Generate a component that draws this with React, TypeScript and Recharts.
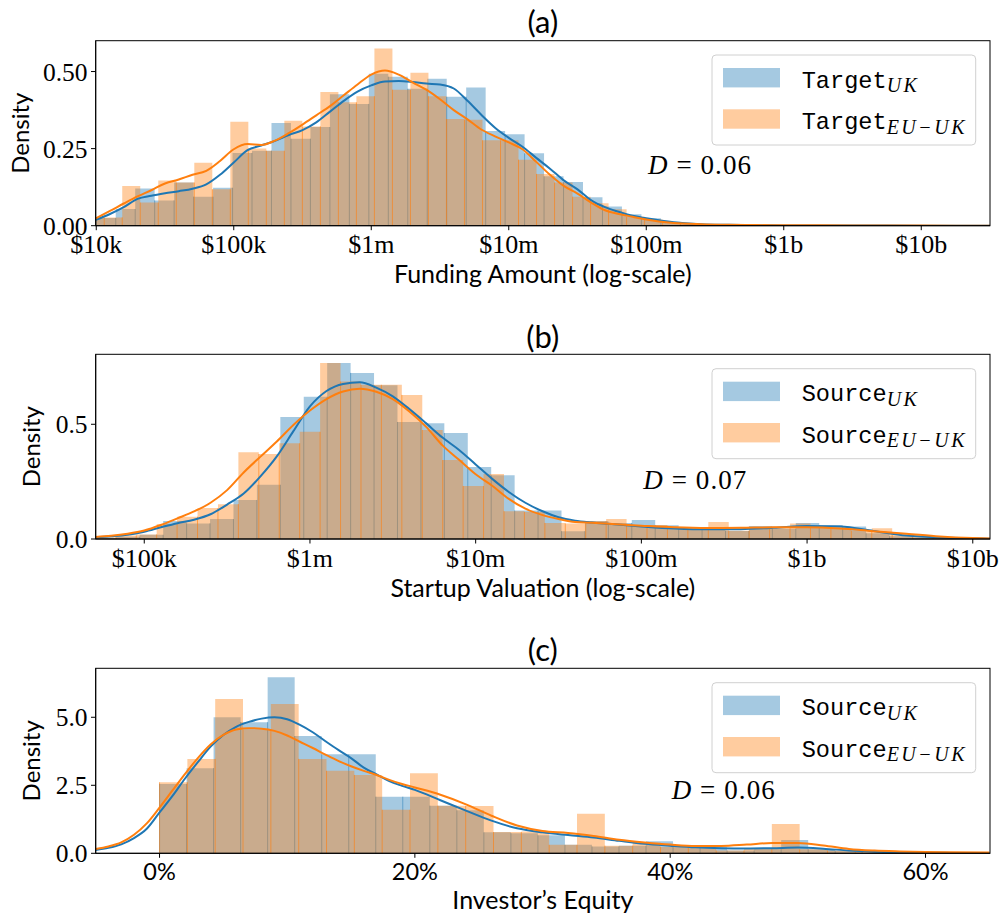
import React from 'react';
import { ComposedChart, XAxis, YAxis, Area, Line, ReferenceLine } from 'recharts';

// ---------------- Panel (a): Funding Amount, x in log10($) ----------------
const A_X_TICKS = [4, 5, 6, 7, 8, 9, 10];
const A_X_LABELS = ['$10k', '$100k', '$1m', '$10m', '$100m', '$1b', '$10b'];
const A_Y_TICKS = [0, 0.25, 0.5];
const A_Y_LABELS = ['0.00', '0.25', '0.50'];
const A_UK_BIN_START = 4.0;
const A_UK_BIN_WIDTH = 0.1416;
const A_UK_HIST = [0.025, 0.054, 0.121, 0.082, 0.14, 0.094, 0.123, 0.236, 0.243, 0.333, 0.282, 0.32, 0.426, 0.395, 0.493, 0.483, 0.444, 0.477, 0.418, 0.448, 0.307, 0.297, 0.235, 0.16, 0.142, 0.092, 0.062, 0.037, 0.024, 0.013, 0.007, 0.004, 0.002, 0.002, 0.001, 0.001];
const A_EU_BIN_START = 3.927;
const A_EU_BIN_WIDTH = 0.131;
const A_EU_HIST = [0.027, 0.027, 0.129, 0.075, 0.147, 0.14, 0.204, 0.118, 0.337, 0.25, 0.243, 0.34, 0.322, 0.434, 0.4, 0.42, 0.575, 0.441, 0.496, 0.42, 0.346, 0.344, 0.277, 0.277, 0.214, 0.168, 0.14, 0.094, 0.073, 0.053, 0.029, 0.02, 0.011, 0.006, 0.004, 0.002, 0.002, 0.001, 0.001];
const A_KDE_X = [3.996, 4.1, 4.2, 4.3, 4.4, 4.5, 4.6, 4.7, 4.8, 4.9, 5.0, 5.1, 5.2, 5.3, 5.4, 5.5, 5.6, 5.7, 5.8, 5.9, 6.0, 6.1, 6.2, 6.3, 6.4, 6.5, 6.6, 6.7, 6.8, 6.9, 7.0, 7.1, 7.2, 7.3, 7.4, 7.5, 7.6, 7.7, 7.8, 7.9, 8.0, 8.2, 8.4, 8.6, 8.8, 9.0, 9.5, 10.0, 10.5];
const A_KDE_UK = [0.019, 0.038, 0.06, 0.087, 0.097, 0.105, 0.112, 0.12, 0.134, 0.165, 0.205, 0.245, 0.26, 0.275, 0.294, 0.31, 0.335, 0.37, 0.405, 0.435, 0.455, 0.468, 0.469, 0.466, 0.461, 0.458, 0.445, 0.405, 0.36, 0.318, 0.285, 0.256, 0.22, 0.185, 0.147, 0.118, 0.082, 0.06, 0.045, 0.032, 0.024, 0.011, 0.005, 0.003, 0.0015, 0.001, 0.0004, 0.0002, 0.0001];
const A_KDE_EU = [0.024, 0.048, 0.072, 0.095, 0.115, 0.137, 0.15, 0.165, 0.178, 0.21, 0.248, 0.265, 0.262, 0.276, 0.3, 0.328, 0.358, 0.388, 0.423, 0.458, 0.49, 0.503, 0.49, 0.465, 0.441, 0.41, 0.375, 0.345, 0.312, 0.29, 0.27, 0.248, 0.207, 0.165, 0.129, 0.104, 0.075, 0.05, 0.038, 0.029, 0.02, 0.009, 0.005, 0.003, 0.002, 0.0015, 0.0008, 0.0004, 0.0001];

// ---------------- Panel (b): Startup Valuation, x in log10($) ----------------
const B_X_TICKS = [5, 6, 7, 8, 9, 10];
const B_X_LABELS = ['$100k', '$1m', '$10m', '$100m', '$1b', '$10b'];
const B_Y_TICKS = [0, 0.5];
const B_Y_LABELS = ['0.0', '0.5'];
const B_UK_BIN_START = 4.69;
const B_UK_BIN_WIDTH = 0.1414;
const B_UK_HIST = [0.005, 0.01, 0.018, 0.078, 0.068, 0.087, 0.17, 0.236, 0.532, 0.62, 0.767, 0.724, 0.67, 0.51, 0.504, 0.462, 0.314, 0.278, 0.124, 0.124, 0.034, 0.078, 0.07, 0.083, 0.06, 0.045, 0.045, 0.035, 0.057, 0.045, 0.07, 0.061, 0.055, 0.025, 0.012, 0.006, 0.003, 0.002];
const B_EU_BIN_START = 4.705;
const B_EU_BIN_WIDTH = 0.1233;
const B_EU_HIST = [0.007, 0.015, 0.02, 0.065, 0.097, 0.135, 0.152, 0.378, 0.37, 0.417, 0.467, 0.767, 0.686, 0.672, 0.672, 0.628, 0.475, 0.344, 0.231, 0.283, 0.121, 0.118, 0.07, 0.068, 0.078, 0.087, 0.061, 0.061, 0.05, 0.04, 0.074, 0.036, 0.047, 0.047, 0.068, 0.054, 0.047, 0.036, 0.047, 0.02, 0.013, 0.006];
const B_KDE_X = [4.707, 4.8, 4.9, 5.0, 5.1, 5.2, 5.3, 5.4, 5.5, 5.6, 5.7, 5.8, 5.9, 6.0, 6.1, 6.2, 6.3, 6.4, 6.5, 6.6, 6.7, 6.8, 6.9, 7.0, 7.1, 7.2, 7.3, 7.4, 7.5, 7.6, 7.7, 7.8, 8.0, 8.2, 8.4, 8.6, 8.8, 9.0, 9.2, 9.4, 9.6, 9.8, 10.0, 10.104];
const B_KDE_UK = [0.007, 0.012, 0.019, 0.032, 0.051, 0.069, 0.084, 0.108, 0.15, 0.198, 0.272, 0.36, 0.47, 0.578, 0.645, 0.676, 0.683, 0.66, 0.622, 0.566, 0.505, 0.442, 0.388, 0.325, 0.262, 0.205, 0.158, 0.122, 0.095, 0.08, 0.072, 0.066, 0.055, 0.046, 0.042, 0.043, 0.049, 0.057, 0.054, 0.035, 0.015, 0.006, 0.003, 0.001];
const B_KDE_EU = [0.009, 0.014, 0.023, 0.037, 0.061, 0.09, 0.12, 0.158, 0.213, 0.29, 0.358, 0.425, 0.497, 0.56, 0.61, 0.643, 0.655, 0.642, 0.61, 0.556, 0.49, 0.408, 0.345, 0.282, 0.232, 0.175, 0.132, 0.105, 0.087, 0.074, 0.071, 0.066, 0.058, 0.051, 0.048, 0.049, 0.051, 0.051, 0.046, 0.034, 0.023, 0.011, 0.004, 0.002];

// ---------------- Panel (c): Investor's Equity, x in % ----------------
const C_X_TICKS = [0, 20, 40, 60];
const C_X_LABELS = ['0%', '20%', '40%', '60%'];
const C_Y_TICKS = [0, 2.5, 5.0];
const C_Y_LABELS = ['0.0', '2.5', '5.0'];
const C_UK_BIN_START = 0;
const C_UK_BIN_WIDTH = 2.117;
const C_UK_HIST = [2.55, 3.13, 5.0, 4.82, 6.47, 4.31, 3.64, 3.64, 2.08, 2.08, 1.75, 1.58, 0.77, 0.74, 0.66, 0.31, 0.25, 0.28, 0.44, 0.23, 0.22, 0.1, 0.15, 0.49, 0.15, 0.08, 0.04, 0.02];
const C_EU_BIN_START = 0;
const C_EU_BIN_WIDTH = 2.18;
const C_EU_HIST = [2.61, 3.47, 5.67, 4.55, 5.49, 3.47, 3.03, 2.88, 1.6, 2.94, 1.75, 1.74, 0.78, 0.8, 0.31, 1.45, 0.28, 0.39, 0.23, 0.22, 0.1, 0.18, 1.08, 0.15, 0.1, 0.06, 0.04, 0.02];
const C_KDE_X = [-5, -4, -3, -2, -1, 0, 1, 2, 3, 4, 5, 6, 7, 8, 9, 10, 11, 12, 13, 14, 15, 16, 17, 18, 19, 20, 22, 24, 26, 28, 30, 32, 34, 36, 38, 40, 42, 44, 46, 48, 50, 52, 54, 56, 58, 60, 62, 65];
const C_KDE_UK = [0.12, 0.2, 0.33, 0.56, 0.9, 1.5, 2.1, 2.75, 3.35, 3.92, 4.35, 4.65, 4.83, 4.95, 5.0, 4.93, 4.72, 4.45, 4.12, 3.8, 3.5, 3.15, 2.9, 2.65, 2.48, 2.33, 1.95, 1.57, 1.2, 0.92, 0.77, 0.67, 0.58, 0.46, 0.35, 0.28, 0.22, 0.19, 0.18, 0.19, 0.21, 0.17, 0.1, 0.06, 0.035, 0.02, 0.015, 0.01];
const C_KDE_EU = [0.16, 0.25, 0.4, 0.68, 1.1, 1.68, 2.3, 2.92, 3.5, 4.0, 4.35, 4.55, 4.6, 4.58, 4.5, 4.33, 4.1, 3.87, 3.63, 3.4, 3.2, 3.03, 2.88, 2.7, 2.55, 2.42, 2.15, 1.8, 1.38, 1.02, 0.82, 0.75, 0.64, 0.5, 0.4, 0.32, 0.27, 0.27, 0.32, 0.38, 0.38, 0.29, 0.16, 0.1, 0.07, 0.05, 0.04, 0.03];

const BLUE = '#1f77b4';
const ORANGE = '#ff7f0e';
const BLUE_EDGE_UNDER_ORANGE = '#998e7c';
const SERIF = '"Liberation Serif", "DejaVu Serif", serif';
const SANS = 'Lato, "Open Sans", sans-serif';
const MONO = '"Liberation Mono", "DejaVu Sans Mono", monospace';

type Hist = { start: number; width: number; values: number[] };

function toSteps(h: Hist) {
  const pts = h.values.map((v, i) => ({ x: h.start + i * h.width, v }));
  pts.push({ x: h.start + h.values.length * h.width, v: h.values[h.values.length - 1] });
  return pts;
}

function heightAt(h: Hist, x: number) {
  const i = Math.floor((x - h.start) / h.width);
  if (i < 0 || i >= h.values.length) return 0;
  return h.values[i];
}

function toEdges(h: Hist) {
  const out: { x: number; h: number }[] = [];
  const n = h.values.length;
  for (let i = 0; i <= n; i++) {
    const left = i > 0 ? h.values[i - 1] : 0;
    const right = i < n ? h.values[i] : 0;
    const hh = i === 0 ? right : i === n ? left : Math.min(left, right);
    if (hh > 0.004) out.push({ x: h.start + i * h.width, h: hh });
  }
  return out;
}

function toLine(xs: number[], ys: number[]) {
  return xs.map((x, i) => ({ x, v: ys[i] }));
}

type PanelCfg = {
  top: number;
  height: number;
  marginTop: number;
  xAxisHeight: number;
  xDomain: [number, number];
  xTicks: number[];
  xLabels: string[];
  xFont: string;
  xFontSize: number;
  xTickMargin: number;
  yDomain: [number, number];
  yTicks: number[];
  yLabels: string[];
  uk: Hist;
  eu: Hist;
  kdeX: number[];
  kdeUk: number[];
  kdeEu: number[];
};

function labelFor(ticks: number[], labels: string[]) {
  return (v: number) => {
    const i = ticks.findIndex((t) => Math.abs(t - v) < 1e-9);
    return i >= 0 ? labels[i] : '';
  };
}

function Panel(p: PanelCfg) {
  const ukSteps = toSteps(p.uk);
  const euSteps = toSteps(p.eu);
  const ukEdges = toEdges(p.uk);
  const euEdges = toEdges(p.eu);
  const ukKde = toLine(p.kdeX, p.kdeUk);
  const euKde = toLine(p.kdeX, p.kdeEu);
  const ukLower: { x: number; h: number }[] = [];
  const ukUpper: { x: number; y0: number; h: number }[] = [];
  ukEdges.forEach((e) => {
    const o = Math.min(heightAt(p.eu, e.x - 1e-9), heightAt(p.eu, e.x + 1e-9));
    const lo = Math.min(e.h, o);
    if (lo > 0) ukLower.push({ x: e.x, h: lo });
    if (e.h > lo) ukUpper.push({ x: e.x, y0: lo, h: e.h });
  });
  return (
    <div style={{ position: 'absolute', left: 0, top: p.top, width: 1002, height: p.height }}>
      <ComposedChart width={1002} height={p.height} margin={{ top: p.marginTop, right: 12, bottom: 0, left: 0 }}>
        <XAxis
          type="number"
          dataKey="x"
          domain={p.xDomain}
          allowDataOverflow
          ticks={p.xTicks}
          interval={0}
          tickFormatter={labelFor(p.xTicks, p.xLabels)}
          height={p.xAxisHeight}
          tickSize={4.5}
          tickMargin={p.xTickMargin}
          tick={{ fontFamily: p.xFont, fontSize: p.xFontSize, fill: '#000' }}
          axisLine={{ stroke: '#000' }}
          tickLine={{ stroke: '#000' }}
        />
        <YAxis
          type="number"
          domain={p.yDomain}
          allowDataOverflow
          ticks={p.yTicks}
          interval={0}
          tickFormatter={labelFor(p.yTicks, p.yLabels)}
          width={95.7}
          tickSize={4.7}
          tickMargin={3.5}
          tick={{ fontFamily: SERIF, fontSize: 25.5, fill: '#000' }}
          axisLine={{ stroke: '#000' }}
          tickLine={{ stroke: '#000' }}
        />
        <Area data={ukSteps} dataKey="v" type="stepAfter" fill={BLUE} fillOpacity={0.4} stroke="none" isAnimationActive={false} />
        <Area data={euSteps} dataKey="v" type="stepAfter" fill={ORANGE} fillOpacity={0.4} stroke="none" isAnimationActive={false} />
        {ukLower.map((e, i) => (
          <ReferenceLine key={'ul' + i} segment={[{ x: e.x, y: 0 }, { x: e.x, y: e.h }]} stroke={BLUE_EDGE_UNDER_ORANGE} strokeOpacity={0.9} strokeWidth={1} />
        ))}
        {ukUpper.map((e, i) => (
          <ReferenceLine key={'uu' + i} segment={[{ x: e.x, y: e.y0 }, { x: e.x, y: e.h }]} stroke={BLUE} strokeOpacity={0.5} strokeWidth={1} />
        ))}
        {euEdges.map((e, i) => (
          <ReferenceLine key={'ee' + i} segment={[{ x: e.x, y: 0 }, { x: e.x, y: e.h }]} stroke={ORANGE} strokeOpacity={0.6} strokeWidth={1} />
        ))}
        <Line data={ukKde} dataKey="v" type="monotone" stroke={BLUE} strokeWidth={2} dot={false} isAnimationActive={false} />
        <Line data={euKde} dataKey="v" type="monotone" stroke={ORANGE} strokeWidth={2} dot={false} isAnimationActive={false} />
      </ComposedChart>
    </div>
  );
}

function LegendBox({ top, name }: { top: number; name: string }) {
  return (
    <g>
      <rect x={712} y={top} width={263.7} height={90} rx={4} ry={4} fill="#fff" fillOpacity={0.8} stroke="#d0d0d0" strokeWidth={1} />
      <rect x={723} y={top + 13} width={57} height={19.4} fill={BLUE} fillOpacity={0.4} />
      <rect x={723} y={top + 54.3} width={57} height={19.4} fill={ORANGE} fillOpacity={0.4} />
      <text x={801.7} y={top + 32.5} fill="#000">
        <tspan fontFamily={MONO} fontSize={23.6}>{name}</tspan>
        <tspan fontFamily={SERIF} fontStyle="italic" fontSize={20} dy={4.5} letterSpacing={2.5}>UK</tspan>
      </text>
      <text x={801.7} y={top + 74} fill="#000">
        <tspan fontFamily={MONO} fontSize={23.6}>{name}</tspan>
        <tspan fontFamily={SERIF} fontStyle="italic" fontSize={20} dy={4.5} letterSpacing={2.5}>EU−UK</tspan>
      </text>
    </g>
  );
}

function DText({ x, y, value }: { x: number; y: number; value: string }) {
  return (
    <text x={x} y={y} fontFamily={SERIF} fontSize={27} fill="#000" textLength={103} lengthAdjust="spacing">
      <tspan fontStyle="italic">D</tspan>
      {' = ' + value}
    </text>
  );
}

function Frame({ top, bottom }: { top: number; bottom: number }) {
  return <rect x={95.7} y={top} width={990 - 95.7} height={bottom - top} fill="none" stroke="#000" strokeWidth={1} />;
}

export default function App() {
  return (
    <div style={{ position: 'absolute', left: 0, top: 0, width: 1002, height: 916, background: '#fff' }}>
      <Panel
        top={0}
        height={305}
        marginTop={40.7}
        xAxisHeight={79.3}
        xDomain={[3.996, 10.5]}
        xTicks={A_X_TICKS}
        xLabels={A_X_LABELS}
        xFont={SERIF}
        xFontSize={26}
        xTickMargin={4}
        yDomain={[0, 0.6]}
        yTicks={A_Y_TICKS}
        yLabels={A_Y_LABELS}
        uk={{ start: A_UK_BIN_START, width: A_UK_BIN_WIDTH, values: A_UK_HIST }}
        eu={{ start: A_EU_BIN_START, width: A_EU_BIN_WIDTH, values: A_EU_HIST }}
        kdeX={A_KDE_X}
        kdeUk={A_KDE_UK}
        kdeEu={A_KDE_EU}
      />
      <Panel
        top={305}
        height={315}
        marginTop={49.3}
        xAxisHeight={81}
        xDomain={[4.707, 10.104]}
        xTicks={B_X_TICKS}
        xLabels={B_X_LABELS}
        xFont={SERIF}
        xFontSize={26}
        xTickMargin={5}
        yDomain={[0, 0.805]}
        yTicks={B_Y_TICKS}
        yLabels={B_Y_LABELS}
        uk={{ start: B_UK_BIN_START, width: B_UK_BIN_WIDTH, values: B_UK_HIST }}
        eu={{ start: B_EU_BIN_START, width: B_EU_BIN_WIDTH, values: B_EU_HIST }}
        kdeX={B_KDE_X}
        kdeUk={B_KDE_UK}
        kdeEu={B_KDE_EU}
      />
      <Panel
        top={620}
        height={296}
        marginTop={48.3}
        xAxisHeight={62.7}
        xDomain={[-5, 65.05]}
        xTicks={C_X_TICKS}
        xLabels={C_X_LABELS}
        xFont={SANS}
        xFontSize={23.5}
        xTickMargin={6}
        yDomain={[0, 6.8]}
        yTicks={C_Y_TICKS}
        yLabels={C_Y_LABELS}
        uk={{ start: C_UK_BIN_START, width: C_UK_BIN_WIDTH, values: C_UK_HIST }}
        eu={{ start: C_EU_BIN_START, width: C_EU_BIN_WIDTH, values: C_EU_HIST }}
        kdeX={C_KDE_X}
        kdeUk={C_KDE_UK}
        kdeEu={C_KDE_EU}
      />
      <svg width={1002} height={916} style={{ position: 'absolute', left: 0, top: 0, pointerEvents: 'none' }}>
        <Frame top={40.7} bottom={225.7} />
        <Frame top={354.3} bottom={539} />
        <Frame top={668.3} bottom={853.3} />

        <text x={542.8} y={33.3} textAnchor="middle" fontFamily={SANS} fontSize={31} fill="#000">(a)</text>
        <text x={542.8} y={347.7} textAnchor="middle" fontFamily={SANS} fontSize={31} fill="#000">(b)</text>
        <text x={542.8} y={660.7} textAnchor="middle" fontFamily={SANS} fontSize={31} fill="#000">(c)</text>

        <text x={542.8} y={283.3} textAnchor="middle" fontFamily={SANS} fontSize={25} fill="#000">Funding Amount (log-scale)</text>
        <text x={542.8} y={597.3} textAnchor="middle" fontFamily={SANS} fontSize={25} fill="#000">Startup Valuation (log-scale)</text>
        <text x={542.8} y={909.3} textAnchor="middle" fontFamily={SANS} fontSize={25} fill="#000">Investor’s Equity</text>

        <text x={29} y={133.2} transform="rotate(-90 29 133.2)" textAnchor="middle" fontFamily={SANS} fontSize={24} fill="#000">Density</text>
        <text x={40.5} y={446.7} transform="rotate(-90 40.5 446.7)" textAnchor="middle" fontFamily={SANS} fontSize={24} fill="#000">Density</text>
        <text x={40.5} y={760.8} transform="rotate(-90 40.5 760.8)" textAnchor="middle" fontFamily={SANS} fontSize={24} fill="#000">Density</text>

        <DText x={648} y={174} value="0.06" />
        <DText x={643.3} y={489.3} value="0.07" />
        <DText x={671.7} y={799.3} value="0.06" />

        <LegendBox top={55} name="Target" />
        <LegendBox top={368.7} name="Source" />
        <LegendBox top={682.7} name="Source" />
      </svg>
    </div>
  );
}
